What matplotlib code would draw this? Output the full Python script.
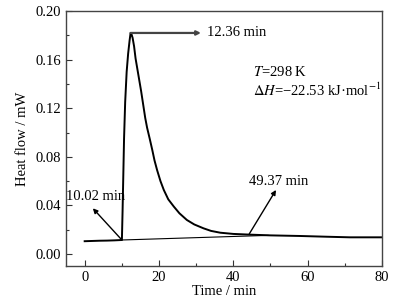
import numpy as np
import matplotlib
matplotlib.use("Agg")
import matplotlib.pyplot as plt

plt.rcParams['font.family'] = ['Liberation Serif', 'DejaVu Serif']
plt.rcParams['mathtext.fontset'] = 'stix'

# heat flow curve
time = [0, 2, 4, 6, 8, 10.02, 10.2, 10.4, 10.6, 10.9, 11.3, 11.7, 12.1, 12.36,
        12.6, 12.9, 13.3, 13.7, 14.2, 14.7, 15.2, 15.8, 16.3, 16.8, 17.5,
        18.2, 18.8, 19.5, 20.4, 21.3, 22.5, 24.0, 25.5, 27.5, 29.5, 32.0,
        34.0, 36.5, 40, 44.6, 50, 58, 65, 71.4, 80]
heat = [0.0105, 0.0107, 0.0109, 0.011, 0.0112, 0.0115, 0.035, 0.065, 0.095,
        0.125, 0.150, 0.165, 0.176, 0.182,
        0.181, 0.178, 0.171, 0.161, 0.152, 0.143, 0.134, 0.122, 0.112, 0.104,
        0.095, 0.0856, 0.077, 0.069, 0.060, 0.0527, 0.045, 0.039, 0.0335,
        0.028, 0.0243, 0.0211, 0.019, 0.0175, 0.0165, 0.0159, 0.0153, 0.0148,
        0.0142, 0.0137, 0.0137]

# integration baseline
base_t = [10.02, 49.37]
base_v = [0.0115, 0.0153]

fig = plt.figure(figsize=(4.08, 3.0), dpi=100)
ax = fig.add_axes([0.162, 0.113, 0.774, 0.85])

ax.plot(time, heat, color='black', lw=1.4)
ax.plot(base_t, base_v, color='black', lw=0.8)

ax.set_xlim(-5, 80)
ax.set_ylim(-0.01, 0.20)
ax.set_xticks([0, 20, 40, 60, 80])
ax.set_xticks([10, 30, 50, 70], minor=True)
ax.set_yticks([0, 0.04, 0.08, 0.12, 0.16, 0.20])
ax.set_yticks([0.02, 0.06, 0.10, 0.14, 0.18], minor=True)
ax.set_yticklabels(['0.00', '0.04', '0.08', '0.12', '0.16', '0.20'])
ax.tick_params(which='both', direction='in', top=False, right=False, labelsize=10.5, color='#333333')
ax.tick_params(which='major', length=4, width=0.8)
ax.tick_params(which='minor', length=2, width=0.8)
for s in ax.spines.values():
    s.set_color('#444444')
    s.set_linewidth(1.0)

ax.set_xlabel('Time / min', fontsize=10.5, labelpad=1)
ax.set_ylabel('Heat flow / mW', fontsize=10.5, labelpad=5)

arr = dict(arrowstyle='-|>', color='black', lw=1.0, mutation_scale=7, shrinkA=0, shrinkB=0)
ax.annotate('', xy=(31.3, 0.182), xytext=(12.36, 0.182),
            arrowprops=dict(arrowstyle='-|>', color='#444444', lw=1.6, mutation_scale=6, shrinkA=0, shrinkB=0))
ax.text(33, 0.182, '12.36 min', fontsize=10.5, va='center', ha='left')

ax.annotate('', xy=(2.2, 0.0376), xytext=(10.02, 0.0115), arrowprops=arr)
ax.text(2.8, 0.0472, '10.02 min', fontsize=10.5, va='center', ha='center')

ax.annotate('', xy=(51.5, 0.0527), xytext=(44.3, 0.0165), arrowprops=arr)
ax.text(52.3, 0.0595, '49.37 min', fontsize=10.5, va='center', ha='center')

ax.text(45.4, 0.150, '$T$=298 K', fontsize=10.5, va='center', ha='left')
ax.text(45.2, 0.135, '$\\Delta H$=\u221222.53 kJ\u00b7mol$^{-1}$', fontsize=10.5, va='center', ha='left')

fig.savefig('out.png', dpi=100)
